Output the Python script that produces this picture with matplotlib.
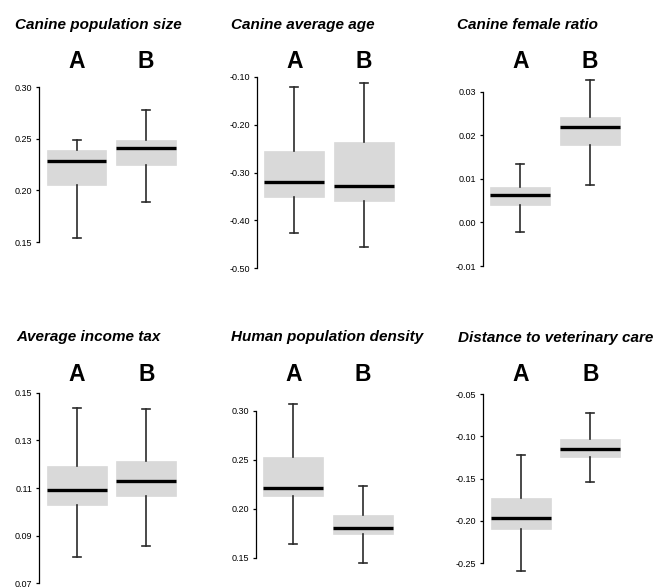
import matplotlib
matplotlib.use("Agg")
import matplotlib.pyplot as plt
import matplotlib.transforms as mtransforms
from matplotlib.ticker import FuncFormatter

plt.rcParams['font.family'] = ['Liberation Sans', 'DejaVu Sans']

# panel titles
titles = ["Canine population size", "Canine average age", "Canine female ratio",
          "Average income tax", "Human population density", "Distance to veterinary care"]
groups = ["A", "B"]

# box statistics per panel: [A, B] each (whislo, q1, med, q3, whishi)
stats_A = [
    (0.154, 0.205, 0.229, 0.239, 0.249),
    (-0.427, -0.351, -0.319, -0.255, -0.122),
    (-0.0022, 0.0040, 0.0064, 0.0082, 0.0135),
    (0.0812, 0.1029, 0.1092, 0.1194, 0.1437),
    (0.164, 0.213, 0.221, 0.253, 0.3075),
    (-0.2587, -0.2098, -0.1965, -0.1732, -0.1217),
]
stats_B = [
    (0.189, 0.225, 0.241, 0.249, 0.278),
    (-0.456, -0.359, -0.328, -0.236, -0.114),
    (0.0086, 0.0178, 0.0218, 0.0243, 0.0327),
    (0.0857, 0.1066, 0.1129, 0.1213, 0.1430),
    (0.1449, 0.1746, 0.1807, 0.1937, 0.223),
    (-0.1543, -0.124, -0.1146, -0.1031, -0.0728),
]

# y ticks per panel
yticks = [
    [0.15, 0.20, 0.25, 0.30],
    [-0.50, -0.40, -0.30, -0.20, -0.10],
    [-0.01, 0.00, 0.01, 0.02, 0.03],
    [0.07, 0.09, 0.11, 0.13, 0.15],
    [0.15, 0.20, 0.25, 0.30],
    [-0.25, -0.20, -0.15, -0.10, -0.05],
]

# layout in pixels: axis x, pixel y of lowest tick, pixel y of highest tick
layout = [
    (39, 242.0, 87.3), (256.7, 268.3, 76.7), (482.7, 266.0, 91.7),
    (39.3, 583.3, 392.7), (255.7, 557.7, 411.0), (483.3, 563.3, 394.0),
]
title_pos = [(15, 29), (230.5, 29), (457, 29), (16, 341), (231, 341), (458, 342)]
letter_y = [68.5, 68.5, 68.5, 381, 381, 381]

W, H = 670, 588
fig = plt.figure(figsize=(W / 100, H / 100), dpi=100)

xlo, xhi = 0.46, 2.54
px_per_unit = 69.5

for i in range(6):
    ax_x, y_lo_px, y_hi_px = layout[i]
    lo, hi = yticks[i][0], yticks[i][-1]
    pad = 0.12 * (hi - lo)
    ppv = (y_lo_px - y_hi_px) / (hi - lo)
    top_px = y_hi_px - pad * ppv
    bot_px = y_lo_px + pad * ppv
    width_px = (xhi - xlo) * px_per_unit
    ax = fig.add_axes([ax_x / W, 1 - bot_px / H, width_px / W, (bot_px - top_px) / H])
    ax.set_ylim(lo - pad, hi + pad)
    ax.set_xlim(xlo, xhi)

    bstats = []
    for s, g in zip((stats_A[i], stats_B[i]), groups):
        bstats.append(dict(whislo=s[0], q1=s[1], med=s[2], q3=s[3], whishi=s[4],
                           fliers=[], label=g))
    ax.bxp(bstats, positions=[1, 2], widths=0.86, capwidths=0.115,
           patch_artist=True, showfliers=False,
           boxprops=dict(facecolor='#d9d9d9', edgecolor='#d9d9d9', linewidth=0.5),
           whiskerprops=dict(color='#2b2b2b', linewidth=1.2),
           capprops=dict(color='#2b2b2b', linewidth=1.2),
           medianprops=dict(color='black', linewidth=2.4, solid_capstyle='butt'))

    for side in ('top', 'right', 'bottom'):
        ax.spines[side].set_visible(False)
    ax.spines['left'].set_bounds(lo, hi)
    ax.spines['left'].set_linewidth(0.9)
    ax.set_xticks([])
    ax.set_yticks(yticks[i])
    ax.yaxis.set_major_formatter(FuncFormatter(lambda v, p: "%.2f" % v))
    ax.tick_params(axis='y', length=2.5, width=0.9, pad=2.5, labelsize=6.5)

    trans = mtransforms.blended_transform_factory(ax.transData, fig.transFigure)
    for xpos, g in zip([1, 2], groups):
        ax.text(xpos, 1 - letter_y[i] / H, g, transform=trans, ha='center',
                va='baseline', fontsize=16.5, fontweight='bold', clip_on=False)

    tx, ty = title_pos[i]
    fig.text(tx / W, 1 - ty / H, titles[i], ha='left', va='baseline',
             fontsize=11, fontweight='bold', fontstyle='italic')

fig.savefig("out.png", dpi=100)
